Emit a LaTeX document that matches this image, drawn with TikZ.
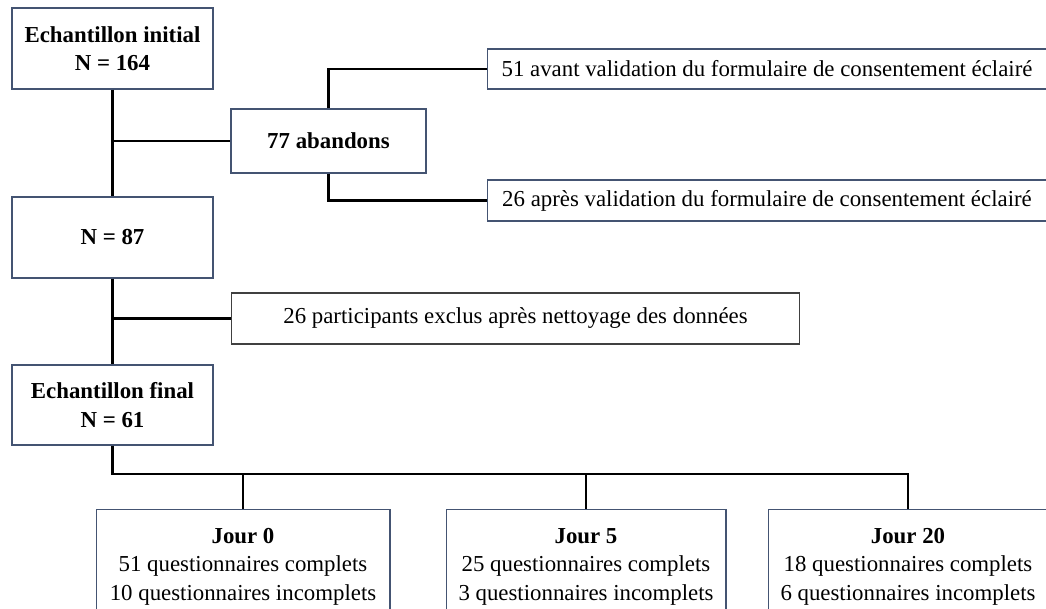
\documentclass[tikz,border=0pt]{standalone}
\usepackage{fontspec}
\setmainfont{Liberation Serif}
\usepackage{xcolor}
\usetikzlibrary{calc, positioning}
\definecolor{boxedge}{RGB}{68,84,114}
\definecolor{greyedge}{RGB}{64,64,64}

\begin{document}
\begin{tikzpicture}[x = 0.02cm, y = -0.02cm,
  box/.style = {draw = boxedge, line width = 0.6pt, fill = white, align = center,
    inner sep = 0pt, font = \fontsize{13}{16.2}\selectfont},
  daybox/.style = {box, anchor = north, inner ysep = 9pt, minimum height = 2.3cm},
  link/.style = {line width = 1.2pt, black}]
\clip (0,0) rectangle (1046,609);
\node[box, minimum width = 4.02cm, minimum height = 1.62cm] (init) at (112.5,48.5)
  {\textbf{Echantillon initial}\\\textbf{N = 164}};
\node[box, minimum width = 3.9cm, minimum height = 1.28cm] (aband) at (328.5,141)
  {\textbf{77 abandons}};
\node[box, minimum width = 11.2cm, minimum height = 0.8cm] (avant) at (767,69)
  {51 avant validation du formulaire de consentement éclairé};
\node[box, minimum width = 11.2cm, minimum height = 0.82cm] (apres) at (767,200.5)
  {26 après validation du formulaire de consentement éclairé};
\node[box, minimum width = 4.02cm, minimum height = 1.62cm] (n87) at (112.5,237.5)
  {\textbf{N = 87}};
\node[box, draw = greyedge, minimum width = 11.38cm, minimum height = 1.02cm] (excl) at (515.5,318.5)
  {26 participants exclus après nettoyage des données};
\node[box, minimum width = 4.02cm, minimum height = 1.6cm] (final) at (112.5,405)
  {\textbf{Echantillon final}\\\textbf{N = 61}};
\node[daybox, minimum width = 5.88cm] (j0) at (243,508.5)
  {\textbf{Jour 0}\\51 questionnaires complets\\10 questionnaires incomplets};
\node[daybox, minimum width = 5.6cm] (j5) at (586,508.5)
  {\textbf{Jour 5}\\25 questionnaires complets\\3 questionnaires incomplets};
\node[daybox, minimum width = 5.6cm] (j20) at (908,508.5)
  {\textbf{Jour 20}\\18 questionnaires complets\\6 questionnaires incomplets};
\coordinate (split) at (112.5,474);
% main column
\draw[link] (init) -- (n87);
\draw[link] (n87) -- (final);
\draw[link] (init.south |- aband.west) -- (aband.west);
\draw[link] (n87.south |- excl.west) -- (excl.west);
% abandons
\draw[link] (aband.north) |- (avant.west);
\draw[link] (aband.south) |- (apres.west);
% days
\draw[link] (final.south) -- (split) -| (j20.north);
\foreach \d in {j0, j5}{
\draw[link] (\d.north) -- (\d.north |- split);
}
\end{tikzpicture}
\end{document}
